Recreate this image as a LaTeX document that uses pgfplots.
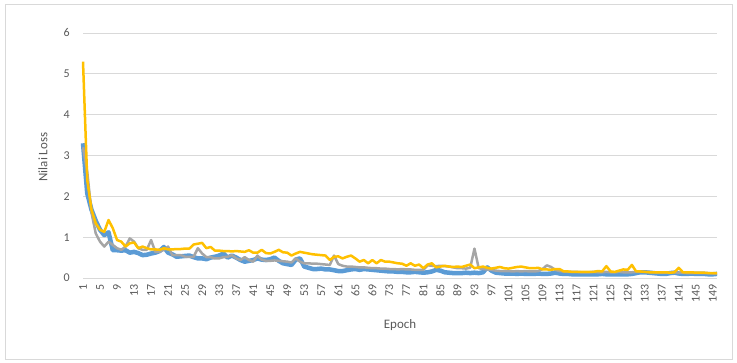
\documentclass[border=0pt]{standalone}
\usepackage{fontspec}
\setmainfont{Carlito}
\usepackage{pgfplots}
\usepackage{pgfplotstable}
\pgfplotsset{compat=1.18}
\definecolor{txt}{HTML}{595959}
\definecolor{gridc}{HTML}{D9D9D9}
\definecolor{sblue}{HTML}{5B9BD5}
\definecolor{sgray}{HTML}{A5A5A5}
\definecolor{syel}{HTML}{FFC000}
\pgfplotstableread{
e b g y
1 3.30 3.20 5.30
2 2.07 2.60 2.40
3 1.67 1.60 1.67
4 1.40 1.09 1.34
5 1.18 0.89 1.18
6 1.05 0.77 1.13
7 1.12 0.89 1.42
8 0.68 0.81 1.22
9 0.68 0.73 0.93
10 0.67 0.69 0.89
11 0.68 0.77 0.77
12 0.62 0.97 0.85
13 0.64 0.89 0.87
14 0.61 0.73 0.73
15 0.56 0.69 0.77
16 0.57 0.69 0.73
17 0.60 0.93 0.70
18 0.62 0.64 0.70
19 0.66 0.64 0.69
20 0.76 0.69 0.73
21 0.62 0.77 0.70
22 0.58 0.56 0.70
23 0.52 0.56 0.71
24 0.53 0.56 0.71
25 0.54 0.52 0.72
26 0.55 0.52 0.72
27 0.51 0.52 0.82
28 0.48 0.73 0.84
29 0.48 0.60 0.86
30 0.46 0.51 0.73
31 0.50 0.51 0.76
32 0.52 0.48 0.67
33 0.55 0.48 0.67
34 0.60 0.51 0.66
35 0.50 0.52 0.66
36 0.55 0.56 0.65
37 0.50 0.48 0.66
38 0.44 0.44 0.65
39 0.40 0.51 0.64
40 0.42 0.44 0.68
41 0.44 0.40 0.62
42 0.48 0.55 0.62
43 0.45 0.45 0.69
44 0.44 0.42 0.61
45 0.46 0.42 0.60
46 0.50 0.43 0.64
47 0.42 0.42 0.69
48 0.36 0.41 0.63
49 0.34 0.40 0.62
50 0.32 0.38 0.55
51 0.45 0.48 0.60
52 0.48 0.40 0.64
53 0.28 0.36 0.62
54 0.25 0.36 0.60
55 0.22 0.35 0.58
56 0.22 0.35 0.57
57 0.23 0.34 0.56
58 0.21 0.33 0.55
59 0.21 0.32 0.44
60 0.19 0.55 0.52
61 0.17 0.34 0.53
62 0.17 0.30 0.48
63 0.19 0.28 0.52
64 0.21 0.28 0.55
65 0.22 0.27 0.48
66 0.20 0.26 0.40
67 0.22 0.26 0.44
68 0.21 0.25 0.36
69 0.20 0.24 0.44
70 0.19 0.24 0.36
71 0.18 0.23 0.44
72 0.17 0.23 0.40
73 0.16 0.22 0.40
74 0.16 0.22 0.38
75 0.15 0.21 0.36
76 0.15 0.22 0.35
77 0.14 0.21 0.30
78 0.14 0.21 0.36
79 0.15 0.20 0.30
80 0.14 0.20 0.33
81 0.13 0.20 0.24
82 0.14 0.31 0.33
83 0.16 0.30 0.36
84 0.20 0.29 0.26
85 0.18 0.30 0.28
86 0.14 0.29 0.30
87 0.13 0.28 0.28
88 0.12 0.26 0.27
89 0.12 0.24 0.28
90 0.12 0.24 0.27
91 0.13 0.23 0.30
92 0.12 0.25 0.33
93 0.13 0.72 0.24
94 0.12 0.24 0.26
95 0.14 0.22 0.28
96 0.26 0.21 0.25
97 0.18 0.20 0.23
98 0.13 0.18 0.25
99 0.12 0.17 0.27
100 0.11 0.17 0.24
101 0.11 0.17 0.23
102 0.11 0.16 0.25
103 0.10 0.17 0.27
104 0.11 0.16 0.28
105 0.10 0.17 0.26
106 0.10 0.16 0.24
107 0.10 0.16 0.24
108 0.11 0.17 0.25
109 0.10 0.22 0.21
110 0.10 0.31 0.21
111 0.11 0.27 0.20
112 0.13 0.20 0.22
113 0.11 0.17 0.22
114 0.10 0.16 0.16
115 0.10 0.15 0.16
116 0.09 0.15 0.15
117 0.09 0.15 0.15
118 0.09 0.14 0.15
119 0.09 0.14 0.15
120 0.09 0.14 0.15
121 0.09 0.15 0.15
122 0.09 0.14 0.17
123 0.10 0.14 0.16
124 0.09 0.15 0.29
125 0.09 0.14 0.16
126 0.09 0.14 0.15
127 0.09 0.15 0.18
128 0.09 0.14 0.21
129 0.09 0.14 0.20
130 0.10 0.14 0.32
131 0.12 0.15 0.16
132 0.14 0.15 0.16
133 0.14 0.15 0.15
134 0.13 0.15 0.14
135 0.12 0.14 0.14
136 0.11 0.13 0.14
137 0.10 0.13 0.14
138 0.10 0.13 0.14
139 0.12 0.13 0.13
140 0.13 0.14 0.14
141 0.11 0.13 0.25
142 0.10 0.13 0.14
143 0.10 0.12 0.14
144 0.11 0.12 0.14
145 0.10 0.12 0.13
146 0.10 0.12 0.13
147 0.10 0.12 0.13
148 0.09 0.12 0.12
149 0.09 0.11 0.12
150 0.10 0.11 0.12
}\loss
\begin{document}
\begin{tikzpicture}
\useasboundingbox (0,0) rectangle (737bp,363bp);
\draw[gridc, line width=0.8bp] (5bp,4bp) rectangle (732bp,359bp);
\begin{axis}[
  at={(83bp,85bp)}, anchor=south west,
  scale only axis, width=634bp, height=245bp,
  xmin=1, xmax=150, ymin=0, ymax=6,
  ytick={0,1,2,3,4,5,6}, xtick={1,5,...,149},
  axis line style={draw=none},
  major tick length=0pt, tick style={draw=none},
  ymajorgrids, grid style={gridc, line width=0.9bp},
  /pgf/number format/assume math mode=true,
  x tick label style={rotate=90, anchor=east, inner sep=0pt, text=txt, font=\fontsize{12}{14}\selectfont},
  y tick label style={anchor=east, inner sep=0pt, text=txt, font=\fontsize{12}{14}\selectfont},
  xticklabel shift=6bp, yticklabel shift=13bp,
  clip=false,
]
\addplot[sblue, line width=4.5bp, line join=round, mark=none] table[x=e,y=b]{\loss};
\addplot[sgray, line width=2.5bp, line join=round, mark=none] table[x=e,y=g]{\loss};
\addplot[syel, line width=2.5bp, line join=round, mark=none] table[x=e,y=y]{\loss};
\end{axis}
\node[rotate=90, text=txt, font=\fontsize{13}{15}\selectfont] at (43bp,206bp) {Nilai Loss};
\node[text=txt, font=\fontsize{13}{15}\selectfont] at (400bp,38bp) {Epoch};
\end{tikzpicture}
\end{document}
